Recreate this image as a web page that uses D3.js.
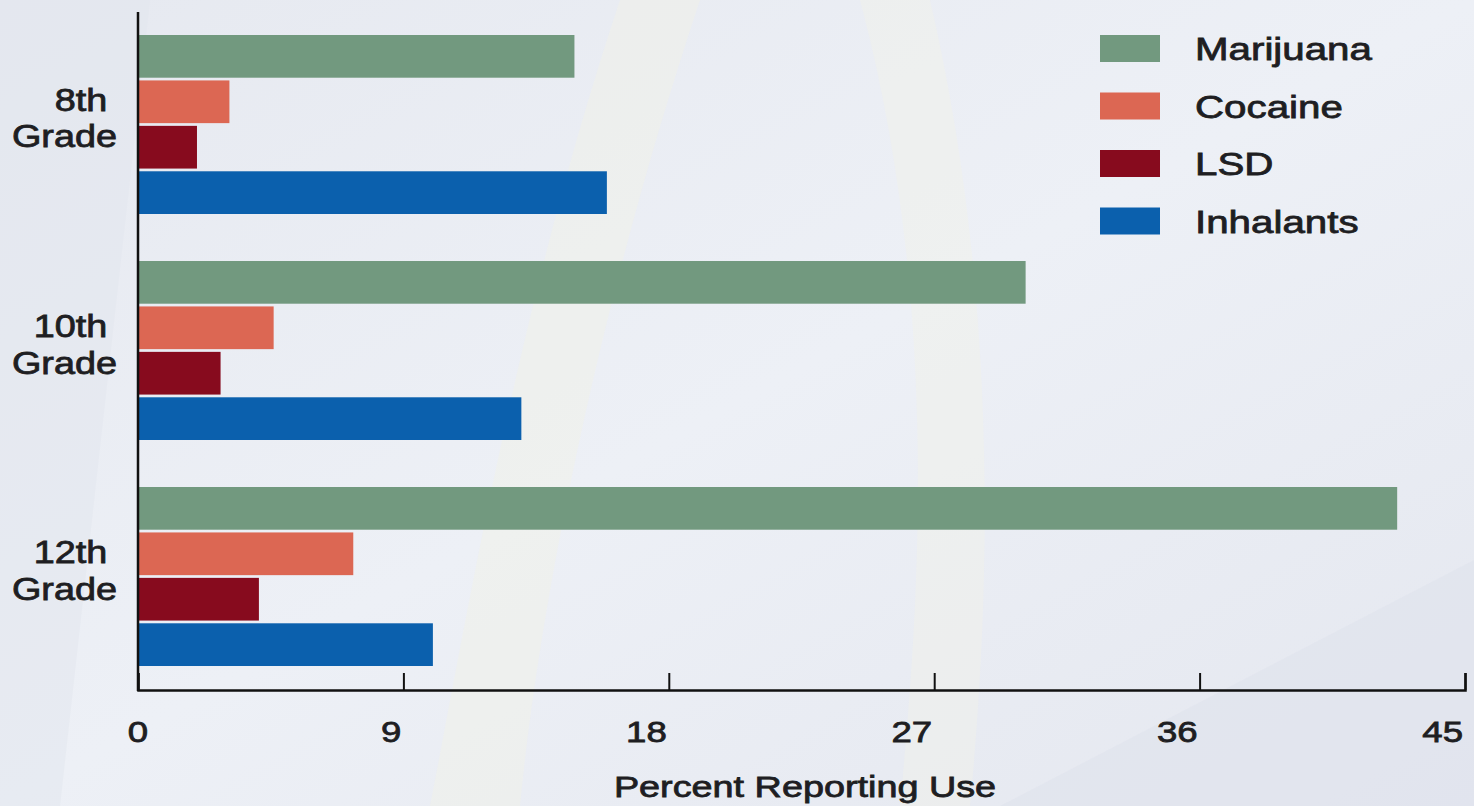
<!DOCTYPE html>
<html>
<head>
<meta charset="utf-8">
<script src="https://cdn.jsdelivr.net/npm/d3@7"></script>
<style>
  body { margin: 0; background: #e9ecf3; }
  svg { display: block; }
</style>
</head>
<body>
<div id="chart"></div>
<script>
// data
const grades = ["8th", "10th", "12th"];
const drugs = ["Marijuana", "Cocaine", "LSD", "Inhalants"];
const marijuana = [14.8, 30.1, 42.7];
const cocaine = [3.1, 4.6, 7.3];
const lsd = [2.0, 2.8, 4.1];
const inhalants = [15.9, 13.0, 10.0];
const xTicks = [0, 9, 18, 27, 36, 45];
const colors = ["#72997f", "#dc6753", "#870b1e", "#0b60ad"];

const seriesValues = [marijuana, cocaine, lsd, inhalants];

const W = 1474, H = 806;
const svg = d3.select("#chart").append("svg")
  .attr("width", W)
  .attr("height", H);

// background, soft gradient + a few faint shapes like the original
const defs = svg.append("defs");
const bg = defs.append("linearGradient").attr("id", "bg")
  .attr("x1", "0").attr("y1", "0").attr("x2", "1").attr("y2", "1");
bg.append("stop").attr("offset", "0").attr("stop-color", "#e6e9f0");
bg.append("stop").attr("offset", "0.5").attr("stop-color", "#edf0f6");
bg.append("stop").attr("offset", "1").attr("stop-color", "#e4e7ef");
svg.append("rect").attr("width", W).attr("height", H).attr("fill", "url(#bg)");

svg.append("path")
  .attr("d", "M430,806 C470,600 520,300 620,0 L700,0 C600,300 540,600 520,806 Z")
  .attr("fill", "#f2f1e6").attr("opacity", 0.45);
svg.append("path")
  .attr("d", "M900,806 C920,600 940,300 860,0 L930,0 C1000,300 990,600 970,806 Z")
  .attr("fill", "#f2f2e8").attr("opacity", 0.45);
svg.append("path")
  .attr("d", "M1000,806 L1474,560 L1474,806 Z")
  .attr("fill", "#dfe3ec").attr("opacity", 0.6);
svg.append("path")
  .attr("d", "M0,0 L150,0 L60,806 L0,806 Z")
  .attr("fill", "#e2e5ed").attr("opacity", 0.5);

const x0 = 138, x1 = 1465, axisY = 690;

const x = d3.scaleLinear().domain([0, 45]).range([x0, x1]);
const yGroup = d3.scaleBand().domain(grades).range([35, 666]).paddingInner(0.208);
const ySub = d3.scaleBand().domain(drugs).range([0, yGroup.bandwidth()]).paddingInner(0.06);

// bars
const groups = svg.selectAll("g.grade")
  .data(grades)
  .join("g")
  .attr("class", "grade")
  .attr("transform", g => "translate(0," + yGroup(g) + ")");

groups.selectAll("rect")
  .data((g, gi) => drugs.map((d, di) => ({ drug: d, value: seriesValues[di][gi], color: colors[di] })))
  .join("rect")
  .attr("x", x(0))
  .attr("y", d => ySub(d.drug))
  .attr("width", d => x(d.value) - x(0))
  .attr("height", ySub.bandwidth())
  .attr("fill", d => d.color);

// text in the original is a bit heavy and stretched sideways
const labelFont = "'Liberation Sans', Arial, sans-serif";
function styleText(sel, size) {
  sel.style("font-family", labelFont)
    .style("font-size", size + "px")
    .style("fill", "#1e1e22")
    .style("stroke", "#1e1e22")
    .style("stroke-width", "0.8px");
}

// grade labels
groups.each(function (g) {
  const mid = yGroup.bandwidth() / 2;
  const t = d3.select(this).append("g")
    .attr("transform", "translate(117," + mid + ") scale(1.22,1)");
  t.append("text")
    .attr("x", -8).attr("y", -14)
    .attr("text-anchor", "end")
    .call(styleText, 31)
    .text(g);
  t.append("text")
    .attr("x", 0).attr("y", 23)
    .attr("text-anchor", "end")
    .call(styleText, 31)
    .text("Grade");
});

// axes
const xAxis = d3.axisBottom(x).tickValues(xTicks).tickSize(-17).tickFormat("");
const axG = svg.append("g")
  .attr("transform", "translate(0," + axisY + ")")
  .call(xAxis);
axG.select(".domain").attr("stroke", "#111").attr("stroke-width", 2.5);
axG.selectAll(".tick line").attr("stroke", "#111").attr("stroke-width", 2);

svg.append("line")
  .attr("x1", x0).attr("x2", x0)
  .attr("y1", 12).attr("y2", axisY + 1)
  .attr("stroke", "#111").attr("stroke-width", 2.5);

// tick labels: right edge sits on the tick, except 0 which is centred
svg.selectAll("g.tlabel")
  .data(xTicks)
  .join("g")
  .attr("class", "tlabel")
  .attr("transform", d => "translate(" + (d === 0 ? x(d) + 10 : x(d) - 2) + ",742) scale(1.22,1)")
  .append("text")
  .attr("text-anchor", "end")
  .call(styleText, 30)
  .text(d => d);

// axis title
svg.append("g")
  .attr("transform", "translate(805,797) scale(1.26,1)")
  .append("text")
  .attr("text-anchor", "middle")
  .call(styleText, 30)
  .text("Percent Reporting Use");

// legend
const legend = svg.selectAll("g.legend")
  .data(drugs)
  .join("g")
  .attr("class", "legend")
  .attr("transform", (d, i) => "translate(1100," + (35 + i * 57.5) + ")");
legend.append("rect")
  .attr("width", 60).attr("height", 27)
  .attr("fill", (d, i) => colors[i]);
legend.append("g")
  .attr("transform", "translate(95,25) scale(1.26,1)")
  .append("text")
  .call(styleText, 32)
  .text(d => d);
</script>
</body>
</html>
